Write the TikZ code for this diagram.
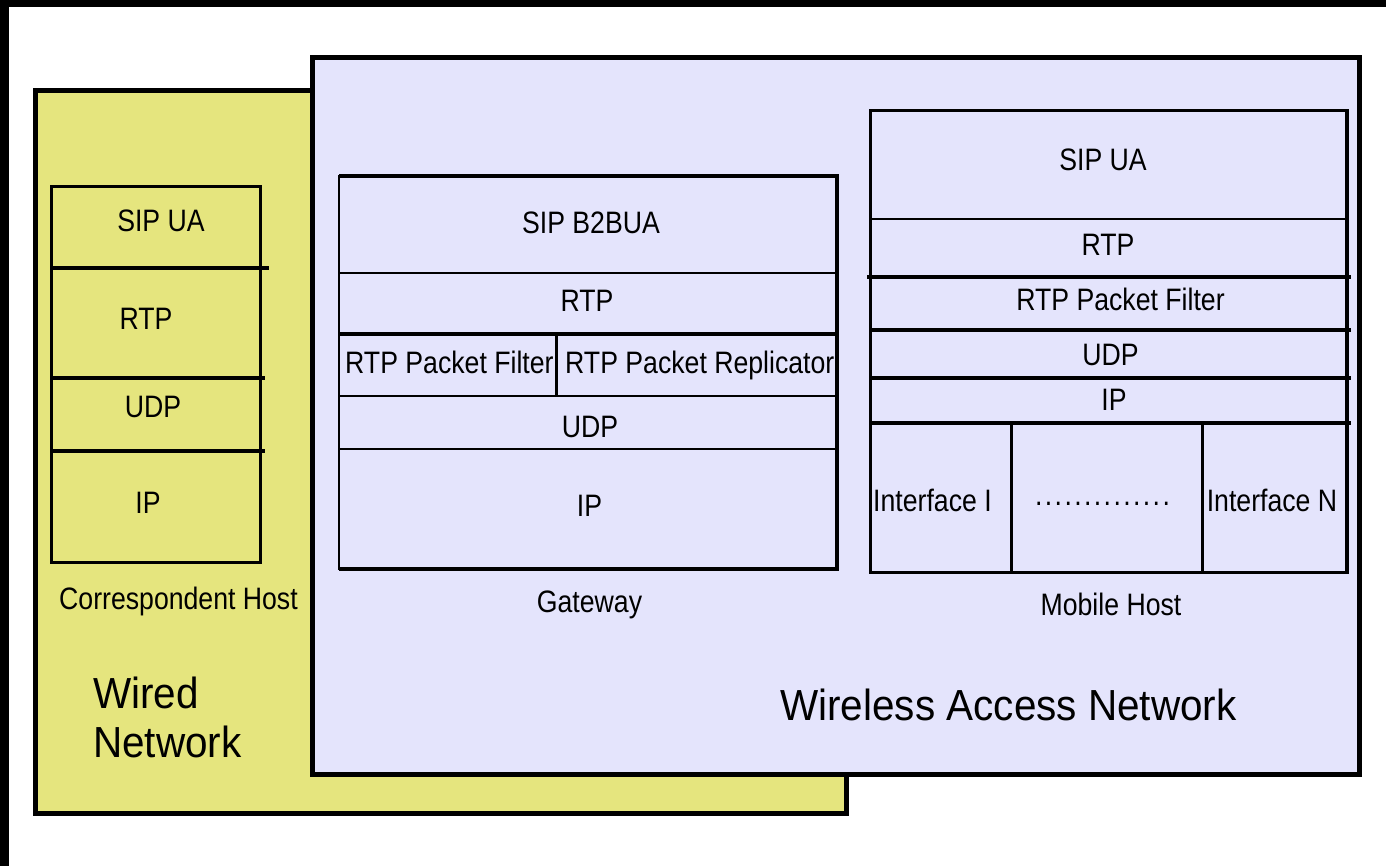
\documentclass[tikz,border=0pt]{standalone}
\usepackage{fontspec}
\setmainfont{Liberation Sans}
\newfontfamily\lblfont{Liberation Sans}[FakeStretch=0.86]
\newfontfamily\bigfont{Liberation Sans}[FakeStretch=0.93]
\definecolor{wired}{RGB}{229,229,126}
\definecolor{wireless}{RGB}{228,228,252}
\begin{document}
\begin{tikzpicture}[x=1pt,y=-1pt,
  lbl/.style={font=\lblfont\fontsize{31}{36}\selectfont, anchor=base, inner sep=0pt},
  lblw/.style={lbl, anchor=base west},
  big/.style={font=\bigfont\fontsize{43.5}{50}\selectfont, anchor=base west, inner sep=0pt},
  bigc/.style={big, anchor=base},
  net/.style={line width=5pt},
  frame/.style={line width=3pt},
  thinline/.style={line width=2pt},
  thickline/.style={line width=4pt}]
\useasboundingbox (0,0) rectangle (1386,866);
\fill[white] (0,0) rectangle (1386,866);
\fill[black] (0,0) rectangle (1386,7);
\fill[black] (0,0) rectangle (8.5,866);

% networks
\draw[net, fill=wired] (35,91) rectangle (846.5,813);
\draw[net, fill=wireless] (312.5,57.5) rectangle (1359.5,774.5);

% ---------------- Correspondent Host ----------------
\draw[frame] (51.5,186.5) rectangle (260.5,562);
\draw[thickline] (51.5,268) -- (269,268);
\draw[thickline] (51.5,378) -- (265,378);
\draw[thickline] (51.5,451) -- (265,451);
\node[lbl] (chsip) at (161,232) {SIP UA};
\node[lbl] (chrtp) at (146,330) {RTP};
\node[lbl] (chudp) at (153,417) {UDP};
\node[lbl] (chip) at (148,513) {IP};
\node[lbl] (chlabel) at (178.5,609) {Correspondent Host};
\node[big] (wired1) at (93,708) {Wired};
\node[big] (wired2) at (93,757) {Network};

% ---------------- Gateway ----------------
\node[lbl] (gwsip) at (591,234) {SIP B2BUA};
\node[lbl] (gwrtp) at (587,312) {RTP};
\node[lblw] (gwfilter) at (345,373) {RTP Packet Filter};
\begin{scope}
\clip (556,334) rectangle (836,396);
\node[lblw] (gwrepl) at (565,373) {RTP Packet Replicator};
\end{scope}
\node[lbl] (gwudp) at (590,437) {UDP};
\node[lbl] (gwip) at (589.5,516) {IP};
\node[lbl] (gwlabel) at (589.5,612) {Gateway};
\draw[thinline] (339,273) -- (837,273);
\draw[thickline] (339,334) -- (837,334);
\draw[thinline] (339,396) -- (837,396);
\draw[thinline] (339,449) -- (837,449);
\draw[line width=3pt] (556,334) -- (556,396);
\draw[line width=2.5pt] (339,176) rectangle (836.5,568.5);
\draw[thickline] (339,176) -- (836.5,176) -- (836.5,568.5) -- (339,568.5);

% ---------------- Mobile Host ----------------
\node[lbl] (mhsip) at (1103,171) {SIP UA};
\node[lbl] (mhrtp) at (1108,256) {RTP};
\node[lbl] (mhfilter) at (1120.5,311) {RTP Packet Filter};
\node[lbl] (mhudp) at (1110.5,365) {UDP};
\node[lbl] (mhip) at (1114,410) {IP};
\node[lbl] (mhif1) at (932.5,511) {Interface I};
\node[lbl, font=\lblfont\fontsize{31}{36}\selectfont\addfontfeature{LetterSpace=7.7}] (mhdots) at (1102.5,505) {..............};
\node[lbl] (mhifn) at (1272,511) {Interface N};
\node[lbl] (mhlabel) at (1111,615) {Mobile Host};
\draw[frame] (870,110.5) rectangle (1347,572.5);
\draw[thickline] (1347,110.5) -- (1347,572.5);
\draw[thinline] (870,219) -- (1347,219);
\draw[thickline] (867,277) -- (1351,277);
\draw[thickline] (869,330) -- (1351,330);
\draw[thickline] (869,378) -- (1351,378);
\draw[thickline] (869,423) -- (1351,423);
\draw[line width=3pt] (1011,423) -- (1011,572.5);
\draw[line width=3pt] (1202,423) -- (1202,572.5);

\node[bigc] (wireless) at (1008.5,720) {Wireless Access Network};
\end{tikzpicture}
\end{document}
